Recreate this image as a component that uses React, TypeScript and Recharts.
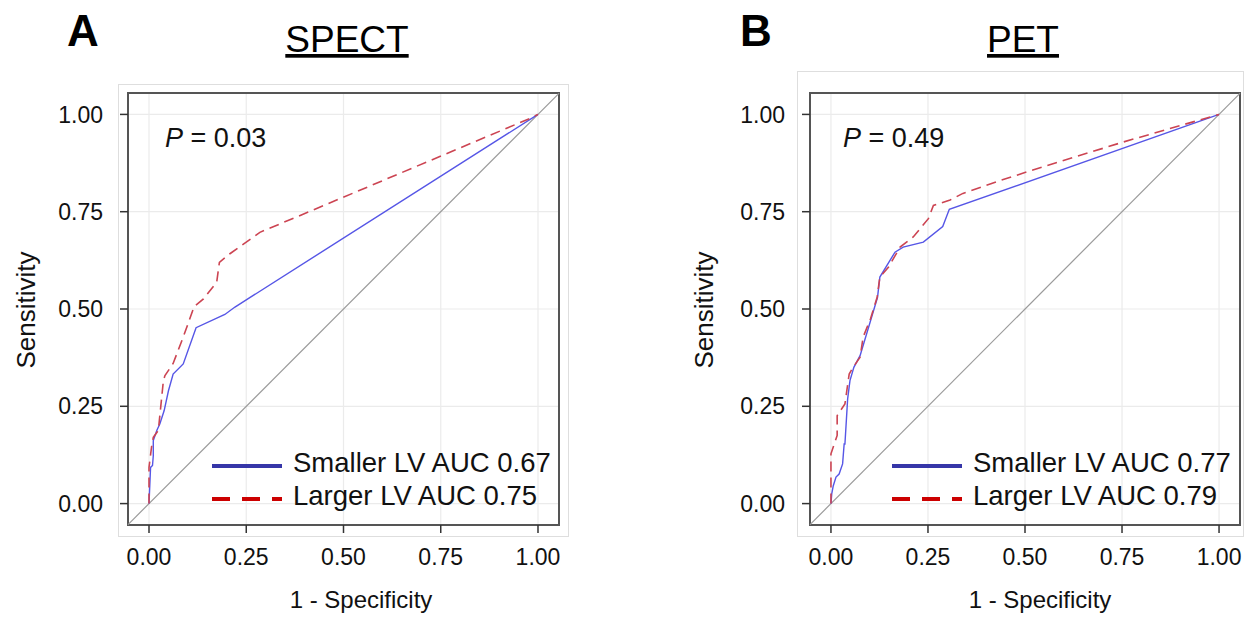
import React from 'react';
import { LineChart, Line, XAxis, YAxis, CartesianGrid, ReferenceLine, ReferenceArea, Legend } from 'recharts';

const FONT = '"Liberation Sans", Arial, Helvetica, sans-serif';

// axis ticks
const axisTicks = [0, 0.25, 0.5, 0.75, 1];
const tickLabels = ['0.00', '0.25', '0.50', '0.75', '1.00'];

// SPECT – smaller LV
const spectSmallX = [0, 0.004, 0.009, 0.011, 0.011, 0.02, 0.028, 0.039, 0.05, 0.062, 0.088, 0.121, 0.195, 0.221, 1];
const spectSmallY = [0, 0.093, 0.098, 0.123, 0.162, 0.188, 0.205, 0.239, 0.29, 0.333, 0.359, 0.452, 0.486, 0.505, 1];
// SPECT – larger LV
const spectLargeX = [0, 0, 0.007, 0.011, 0.024, 0.037, 0.041, 0.062, 0.088, 0.116, 0.14, 0.174, 0.181, 0.208, 0.285, 0.44, 0.98, 1];
const spectLargeY = [0, 0.093, 0.149, 0.17, 0.188, 0.316, 0.329, 0.36, 0.428, 0.506, 0.526, 0.569, 0.62, 0.642, 0.697, 0.762, 0.99, 1];

// PET – smaller LV
const petSmallX = [0, 0.002, 0.006, 0.013, 0.021, 0.03, 0.034, 0.036, 0.043, 0.049, 0.059, 0.075, 0.102, 0.12, 0.126, 0.165, 0.186, 0.238, 0.288, 0.305, 1];
const petSmallY = [0, 0.025, 0.046, 0.068, 0.076, 0.102, 0.153, 0.153, 0.269, 0.316, 0.35, 0.38, 0.47, 0.53, 0.582, 0.646, 0.659, 0.672, 0.712, 0.756, 1];
// PET – larger LV
const petLargeX = [0, 0, 0.016, 0.016, 0.036, 0.047, 0.057, 0.075, 0.083, 0.102, 0.119, 0.126, 0.148, 0.178, 0.212, 0.251, 0.264, 0.307, 0.34, 0.436, 0.504, 0.753, 1];
const petLargeY = [0, 0.128, 0.175, 0.226, 0.256, 0.333, 0.35, 0.376, 0.428, 0.475, 0.53, 0.582, 0.607, 0.659, 0.685, 0.732, 0.766, 0.78, 0.797, 0.83, 0.852, 0.929, 1];

const zip = (xs: number[], ys: number[]) => xs.map((x, i) => ({ x, y: ys[i] }));

const X_DOMAIN: [number, number] = [-0.054, 1.054];
const Y_DOMAIN: [number, number] = [-0.055, 1.055];

const BLUE_LINE = '#5656e6';
const RED_LINE = '#cc4452';
const BLUE_KEY = '#3636a8';
const RED_KEY = '#cc0000';

const YTitle = ({ cx }: { cx: number }) => (
  <text x={cx} y={310} transform={`rotate(-90 ${cx} 310)`} textAnchor="middle" fontSize={26} fontFamily={FONT} fill="#111">
    Sensitivity
  </text>
);

const XTitle = ({ cx }: { cx: number }) => (
  <text x={cx} y={608} textAnchor="middle" fontSize={24} fontFamily={FONT} fill="#111">
    1 - Specificity
  </text>
);

const LegendBox = ({ smallLabel, largeLabel }: { smallLabel: string; largeLabel: string }) => (
  <svg width={380} height={70} style={{ display: 'block', overflow: 'visible' }}>
    <line x1={7} y1={21} x2={77} y2={21} stroke={BLUE_KEY} strokeWidth={4} />
    <line x1={7} y1={54} x2={77} y2={54} stroke={RED_KEY} strokeWidth={4} strokeDasharray="18 12" />
    <text x={88} y={27} fontSize={27.5} fontFamily={FONT} fill="#111">{smallLabel}</text>
    <text x={88} y={60} fontSize={27.5} fontFamily={FONT} fill="#111">{largeLabel}</text>
  </svg>
);

type PanelProps = {
  left: number;
  width: number;
  yAxisWidth: number;
  marginRight: number;
  small: { x: number; y: number }[];
  large: { x: number; y: number }[];
  smallLabel: string;
  largeLabel: string;
  legendLeft: number;
  sensX: number;
  titleX: number;
};

function Panel(p: PanelProps) {
  const tickStyle = { fill: '#111', fontSize: 23, fontFamily: FONT };
  return (
    <div style={{ position: 'absolute', left: p.left, top: 0 }}>
      <LineChart width={p.width} height={618} margin={{ top: 93, right: p.marginRight, bottom: 0, left: 0 }}>
        <CartesianGrid stroke="#ebebeb" strokeWidth={1.2} />
        <XAxis
          type="number"
          dataKey="x"
          domain={X_DOMAIN}
          allowDataOverflow
          ticks={axisTicks}
          tickFormatter={(v: number) => tickLabels[axisTicks.indexOf(v)] ?? v.toFixed(2)}
          height={93}
          tick={tickStyle}
          tickSize={8}
          tickMargin={16}
          tickLine={{ stroke: '#333', strokeWidth: 1.5 }}
          axisLine={false}
          label={<XTitle cx={p.titleX} />}
        />
        <YAxis
          type="number"
          dataKey="y"
          domain={Y_DOMAIN}
          allowDataOverflow
          ticks={axisTicks}
          tickFormatter={(v: number) => tickLabels[axisTicks.indexOf(v)] ?? v.toFixed(2)}
          width={p.yAxisWidth}
          tick={tickStyle}
          tickSize={8}
          tickMargin={17}
          tickLine={{ stroke: '#333', strokeWidth: 1.5 }}
          axisLine={false}
          label={<YTitle cx={p.sensX} />}
        />
        <ReferenceLine
          segment={[{ x: -0.054, y: -0.054 }, { x: 1.054, y: 1.054 }]}
          stroke="#9a9a9a"
          strokeWidth={1.2}
        />
        <Line
          data={p.small}
          dataKey="y"
          type="linear"
          stroke={BLUE_LINE}
          strokeWidth={1.4}
          dot={false}
          isAnimationActive={false}
        />
        <Line
          data={p.large}
          dataKey="y"
          type="linear"
          stroke={RED_LINE}
          strokeWidth={1.6}
          strokeDasharray="10 6"
          dot={false}
          isAnimationActive={false}
        />
        <ReferenceArea x1={X_DOMAIN[0]} x2={X_DOMAIN[1]} y1={Y_DOMAIN[0]} y2={Y_DOMAIN[1]} fill="none" stroke="#555" strokeWidth={2} fillOpacity={0} />
        <Legend
          layout="horizontal"
          verticalAlign="middle"
          align="center"
          wrapperStyle={{ position: 'absolute', left: p.legendLeft, top: 445, bottom: 'auto', width: 380, height: 70 }}
          content={() => <LegendBox smallLabel={p.smallLabel} largeLabel={p.largeLabel} />}
        />
      </LineChart>
    </div>
  );
}

export default function App() {
  return (
    <div style={{ position: 'absolute', left: 0, top: 0, width: 1257, height: 618, background: '#fff', fontFamily: FONT }}>
      <div style={{ position: 'absolute', left: 118, top: 84, width: 451, height: 453, border: '1px solid #dedede', boxSizing: 'border-box' }} />
      <div style={{ position: 'absolute', left: 797, top: 71, width: 447, height: 466, border: '1px solid #dedede', boxSizing: 'border-box' }} />
      <Panel
        left={0}
        width={620}
        yAxisWidth={128}
        marginRight={61}
        small={zip(spectSmallX, spectSmallY)}
        large={zip(spectLargeX, spectLargeY)}
        smallLabel="Smaller LV AUC 0.67"
        largeLabel="Larger LV AUC 0.75"
        legendLeft={205}
        sensX={35}
        titleX={361}
      />
      <Panel
        left={640}
        width={617}
        yAxisWidth={170}
        marginRight={17}
        small={zip(petSmallX, petSmallY)}
        large={zip(petLargeX, petLargeY)}
        smallLabel="Smaller LV AUC 0.77"
        largeLabel="Larger LV AUC 0.79"
        legendLeft={245}
        sensX={73}
        titleX={400}
      />
      <svg width={1257} height={618} style={{ position: 'absolute', left: 0, top: 0, pointerEvents: 'none' }}>
        <text x={67} y={46} fontSize={44} fontWeight="bold" fontFamily={FONT} fill="#000">A</text>
        <text x={740} y={46} fontSize={44} fontWeight="bold" fontFamily={FONT} fill="#000">B</text>
        <text x={347} y={52} fontSize={37} textAnchor="middle" textDecoration="underline" fontFamily={FONT} fill="#000">SPECT</text>
        <text x={1023} y={52} fontSize={37} textAnchor="middle" textDecoration="underline" fontFamily={FONT} fill="#000">PET</text>
        <text x={165} y={147} fontSize={27} fontFamily={FONT} fill="#111"><tspan fontStyle="italic">P</tspan> = 0.03</text>
        <text x={843} y={147} fontSize={27} fontFamily={FONT} fill="#111"><tspan fontStyle="italic">P</tspan> = 0.49</text>
      </svg>
    </div>
  );
}
